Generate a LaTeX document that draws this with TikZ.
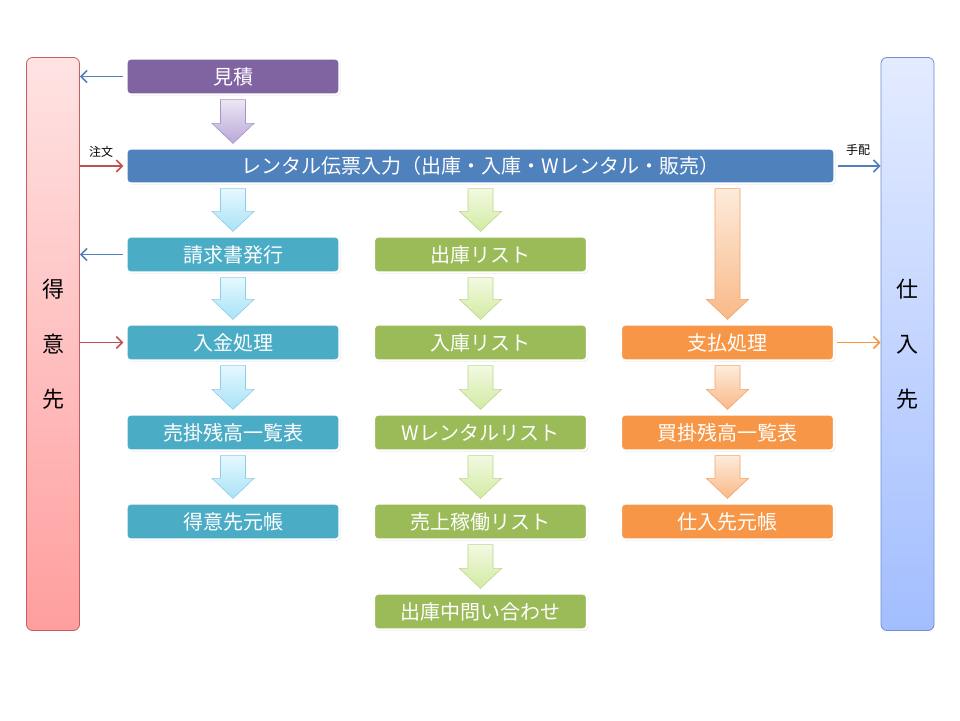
\documentclass[tikz,border=0pt]{standalone}
\usepackage{fontspec}
\setmainfont{Noto Sans CJK JP}
\usetikzlibrary{calc,shadows,arrows.meta}
\definecolor{cpurple}{HTML}{8064A2}
\definecolor{cbar}{HTML}{4F81BD}
\definecolor{cteal}{HTML}{4BACC6}
\definecolor{cgreen}{HTML}{9BBB59}
\definecolor{corange}{HTML}{F79646}
\definecolor{cred}{HTML}{C0504D}
\definecolor{lTop}{HTML}{FFE3E3}
\definecolor{lBot}{HTML}{FF9E9E}
\definecolor{lDraw}{HTML}{C65E5E}
\definecolor{rTop}{HTML}{E3EBFF}
\definecolor{rBot}{HTML}{A3BEFF}
\definecolor{rDraw}{HTML}{6E8FCB}
\definecolor{pTop}{HTML}{ECE6F4}
\definecolor{pBot}{HTML}{B9A8D8}
\definecolor{pDraw}{HTML}{A595C8}
\definecolor{cTop}{HTML}{E6F8FF}
\definecolor{cBot}{HTML}{A8E2F6}
\definecolor{cDraw}{HTML}{8FCDE6}
\definecolor{gTop}{HTML}{F2F9E2}
\definecolor{gBot}{HTML}{D2EBA2}
\definecolor{gDraw}{HTML}{BCD68A}
\definecolor{oTop}{HTML}{FDEBDB}
\definecolor{oBot}{HTML}{F9B988}
\definecolor{oDraw}{HTML}{F1A46A}
\newcommand\barrow[4]{\path[#4] let \p1=(#1), \p2=(#2), \p3=(#3) in
  (\x3-12.5pt,\y1-4pt) -- (\x3+12.5pt,\y1-4pt) -- (\x3+12.5pt,\y2+24pt) -- (\x3+21pt,\y2+24pt)
  -- (\x3,\y2+4pt) -- (\x3-21pt,\y2+24pt) -- (\x3-12.5pt,\y2+24pt) -- cycle;}
\begin{document}
\begin{tikzpicture}[x=1pt,y=-1pt,
  box/.style={draw=white,line width=2.2pt,rounded corners=4pt,minimum width=213pt,minimum height=36pt,inner sep=0pt,
    text=white,font=\fontsize{20}{22}\selectfont,
    drop shadow={opacity=0.4,shadow xshift=1pt,shadow yshift=-1.2pt}},
  side/.style={draw,line width=0.8pt,rounded corners=6pt,minimum width=53pt,minimum height=573pt,inner sep=0pt,
    align=center,font=\fontsize{22}{24}\selectfont},
  conn/.style={line width=1.8pt,-{Straight Barb[length=6pt,width=12pt,line width=1.6pt]}},
  small/.style={font=\fontsize{12}{13}\selectfont,inner sep=0pt},
  apurple/.style={top color=pTop,bottom color=pBot,draw=pDraw,line width=0.6pt},
  acyan/.style={top color=cTop,bottom color=cBot,draw=cDraw,line width=0.6pt},
  agreen/.style={top color=gTop,bottom color=gBot,draw=gDraw,line width=0.6pt},
  aorange/.style={top color=oTop,bottom color=oBot,draw=oDraw,line width=0.6pt}]
\useasboundingbox (0,0) rectangle (960,720);
\fill[white] (0,0) rectangle (960,720);
% side boxes
\node[side,top color=lTop,bottom color=lBot,draw=lDraw] (L) at (53,344)
  {得\\[31pt]意\\[31pt]先};
\node[side,top color=rTop,bottom color=rBot,draw=rDraw] (R) at (907.5,344)
  {仕\\[31pt]入\\[31pt]先};
% main boxes
\node[box,fill=cpurple] (mitsumori) at (233,76.5) {見積};
\node[box,fill=cbar,minimum width=708pt,minimum height=35pt] (bar) at (480.5,166)
  {レンタル伝票入力（出庫・入庫・Wレンタル・販売）};
\node[box,fill=cteal] (seikyu) at (233,254.5) {請求書発行};
\node[box,fill=cteal] (nyukin) at (233,342.5) {入金処理};
\node[box,fill=cteal] (urikake) at (233,432.5) {売掛残高一覧表};
\node[box,fill=cteal] (tokui) at (233,521.5) {得意先元帳};
\node[box,fill=cgreen] (shukko) at (480.5,254.5) {出庫リスト};
\node[box,fill=cgreen] (nyuko) at (480.5,342.5) {入庫リスト};
\node[box,fill=cgreen] (wrental) at (480.5,432.5) {Wレンタルリスト};
\node[box,fill=cgreen] (uriage) at (480.5,521.5) {売上稼働リスト};
\node[box,fill=cgreen] (toiawase) at (480.5,611.5) {出庫中問い合わせ};
\node[box,fill=corange] (shiharai) at (727.5,342.5) {支払処理};
\node[box,fill=corange] (kaikake) at (727.5,432.5) {買掛残高一覧表};
\node[box,fill=corange] (shiire) at (727.5,521.5) {仕入先元帳};
% block arrows
\barrow{mitsumori.south}{bar.north}{mitsumori.south}{apurple}
\barrow{bar.south}{seikyu.north}{seikyu.north}{acyan}
\barrow{seikyu.south}{nyukin.north}{nyukin.north}{acyan}
\barrow{nyukin.south}{urikake.north}{urikake.north}{acyan}
\barrow{urikake.south}{tokui.north}{tokui.north}{acyan}
\barrow{bar.south}{shukko.north}{shukko.north}{agreen}
\barrow{shukko.south}{nyuko.north}{nyuko.north}{agreen}
\barrow{nyuko.south}{wrental.north}{wrental.north}{agreen}
\barrow{wrental.south}{uriage.north}{uriage.north}{agreen}
\barrow{uriage.south}{toiawase.north}{toiawase.north}{agreen}
\barrow{bar.south}{shiharai.north}{shiharai.north}{aorange}
\barrow{shiharai.south}{kaikake.north}{kaikake.north}{aorange}
\barrow{kaikake.south}{shiire.north}{shiire.north}{aorange}
% connectors
\draw[conn,cbar] ([xshift=-2pt]mitsumori.west) -- (mitsumori.west -| L.east);
\draw[conn,cred] (bar.west -| L.east) -- ([xshift=-2pt]bar.west);
\draw[conn,cbar] ([xshift=-2pt]seikyu.west) -- (seikyu.west -| L.east);
\draw[conn,cred] (nyukin.west -| L.east) -- ([xshift=-2pt]nyukin.west);
\draw[conn,cbar] ([xshift=2pt]bar.east) -- (bar.east -| R.west);
\draw[conn,corange] ([xshift=2pt]shiharai.east) -- (shiharai.east -| R.west);
\node[small] (chumon) at (101,152) {注文};
\node[small] (tehai) at (858,150) {手配};
\end{tikzpicture}
\end{document}
